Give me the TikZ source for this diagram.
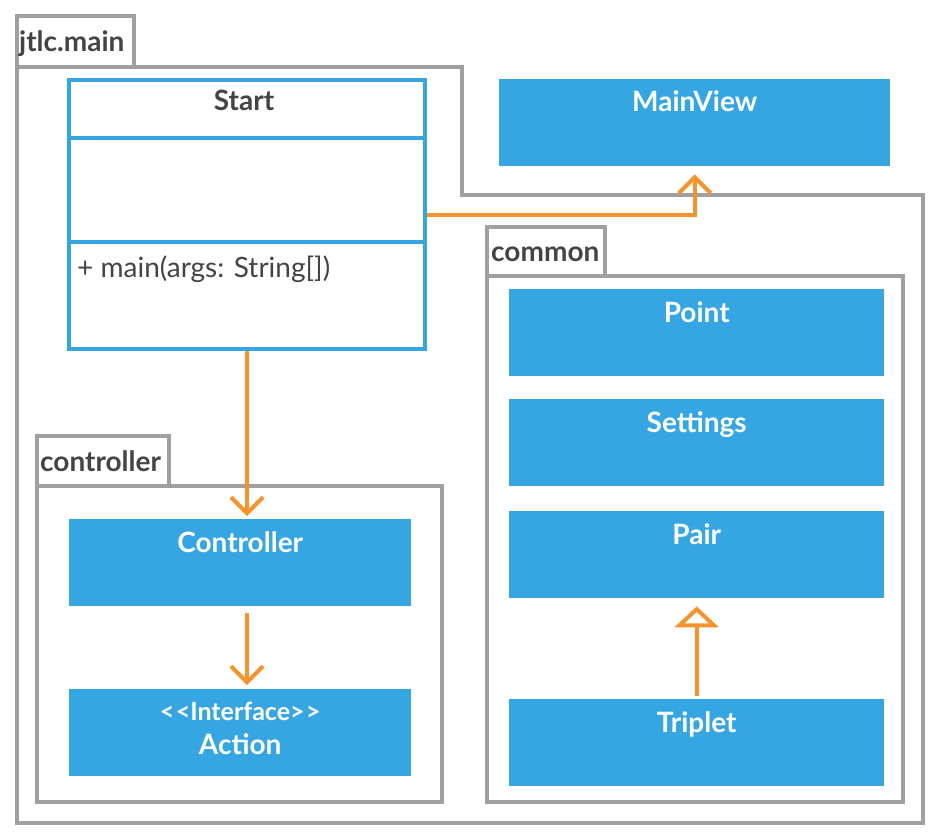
\documentclass[tikz,border=0pt]{standalone}
\usepackage{fontspec}
\setmainfont{Lato}
\usetikzlibrary{arrows.meta}
\definecolor{clsblue}{RGB}{54,166,226}
\definecolor{deporange}{RGB}{245,148,46}
\definecolor{pkggray}{RGB}{160,160,160}
\definecolor{txtgray}{RGB}{68,68,68}
\begin{document}
\begin{tikzpicture}[x=1pt,y=-1pt,
 cls/.style={fill=clsblue,anchor=north west,minimum height=87pt,inner sep=0pt},
 clstitle/.style={anchor=base,text=white,inner sep=0pt,font=\fontsize{28}{32}\selectfont\bfseries},
 pkg/.style={draw=pkggray,line width=4pt},
 pkglabel/.style={anchor=base west,inner sep=0pt,text=txtgray,font=\fontsize{28}{32}\selectfont\bfseries},
 dep/.style={draw=deporange,line width=4pt,-{Straight Barb[length=16pt,width=32pt]}},
 ext/.style={draw=deporange,line width=4pt,-{Triangle[open,length=21pt,width=44pt]}}]
\useasboundingbox (0,0) rectangle (940,840);
\fill[white] (0,0) rectangle (940,840);

% packages
\draw[pkg] (17,16) rectangle (134,67);
\draw[pkg] (17,67) -- (462,67) -- (462,195) -- (923,195) -- (923,823) -- (17,823) -- cycle;
\node[pkglabel] (mainpkg) at (19,52) {jtlc.main};
\draw[pkg] (37,436) rectangle (169,486);
\draw[pkg] (37,486) rectangle (442,802);
\node[pkglabel] (ctrlpkg) at (40,471) {controller};
\draw[pkg] (487,227) rectangle (605,276);
\draw[pkg] (487,276) rectangle (903,802);
\node[pkglabel] (commonpkg) at (491,261) {common};

% Start class
\node[draw=clsblue,line width=4pt,anchor=north west,minimum width=356pt,minimum height=269pt,inner sep=0pt] (start) at (67,78) {};
\draw[clsblue,line width=4pt] (start.west |- 0,138) -- (start.east |- 0,138)
 (start.west |- 0,242) -- (start.east |- 0,242);
\node[clstitle,text=txtgray] (start-title) at ([xshift=-3pt,yshift=-33pt]start.north) {Start};
\node[anchor=base west,inner sep=0pt,text=txtgray,font=\fontsize{28}{32}\selectfont] (start-op) at (77,277) {+ main(args: String[])};

% filled classes
\foreach \nm/\x/\y/\w/\txt in {mainview/499/79/391/MainView,ctrl/69/519/342/Controller,
 point/509/289/375/Point,settings/509/399/375/Settings,pair/509/511/375/Pair,triplet/509/699/375/Triplet}
{\node[cls,minimum width=\w pt] (\nm) at (\x,\y) {};
\node[clstitle] (\nm-title) at ([yshift=-33pt]\nm.north) {\txt};
}
\node[cls,minimum width=342pt] (action) at (69,689) {};
\node[clstitle,font=\fontsize{25}{29}\selectfont\bfseries] (action-st) at ([yshift=-31pt]action.north) {<\kern1.5pt<Interface>\kern1.5pt>};
\node[clstitle] (action-title) at ([yshift=-65pt]action.north) {Action};

% connectors
\draw[dep] (start.south) -- ([yshift=3pt]start.south |- ctrl.north);
\draw[dep] ([yshift=-7pt]start.south |- ctrl.south) -- ([yshift=4pt]start.south |- action.north);
\draw[dep] (start.east) -| ([yshift=-8pt]mainview.south);
\draw[ext] ([yshift=3pt]triplet.north) -- ([yshift=-8pt]pair.south);

\end{tikzpicture}
\end{document}
